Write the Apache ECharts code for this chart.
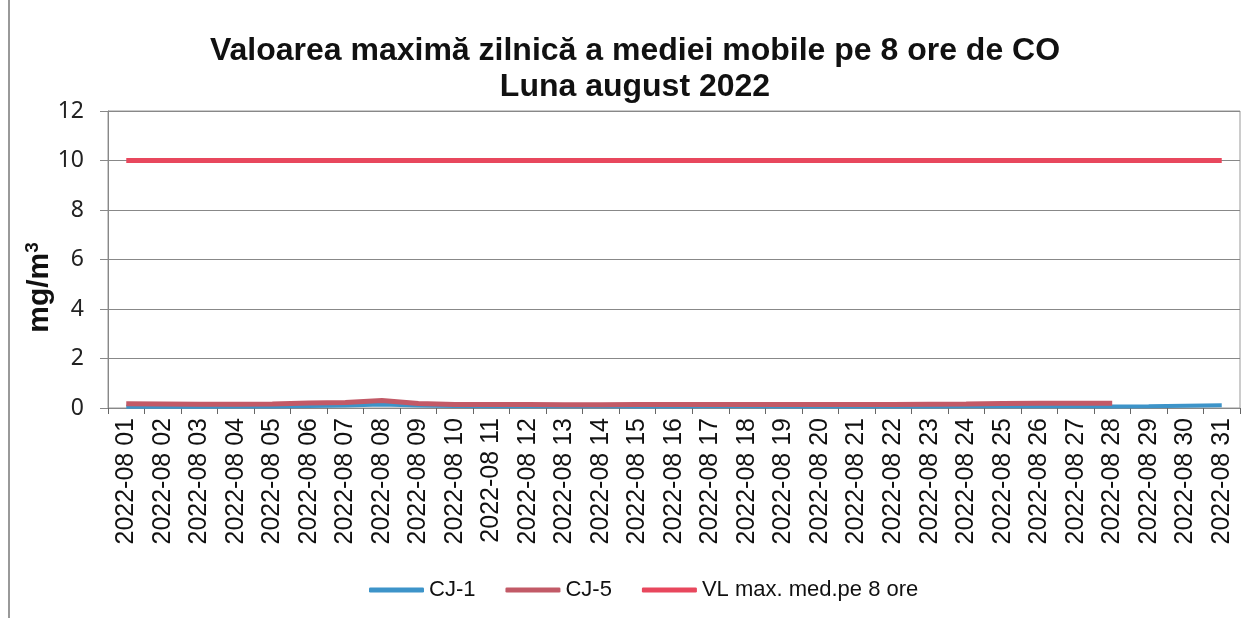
<!DOCTYPE html>
<html>
<head>
<meta charset="utf-8">
<script src="https://cdn.jsdelivr.net/npm/echarts@6/dist/echarts.min.js"></script>
<style>html,body{margin:0;padding:0;background:#fff}#c{width:1257px;height:618px}</style>
</head>
<body>
<div id="c"></div>
<script>
const days = ['2022-08 01','2022-08 02','2022-08 03','2022-08 04','2022-08 05','2022-08 06','2022-08 07','2022-08 08','2022-08 09','2022-08 10','2022-08 11','2022-08 12','2022-08 13','2022-08 14','2022-08 15','2022-08 16','2022-08 17','2022-08 18','2022-08 19','2022-08 20','2022-08 21','2022-08 22','2022-08 23','2022-08 24','2022-08 25','2022-08 26','2022-08 27','2022-08 28','2022-08 29','2022-08 30','2022-08 31'];
const cj1 = [0.05,0.05,0.05,0.06,0.06,0.08,0.1,0.14,0.1,0.08,0.07,0.07,0.08,0.07,0.06,0.06,0.07,0.07,0.06,0.06,0.06,0.06,0.06,0.07,0.07,0.07,0.07,0.06,0.07,0.09,0.11];
const cj5 = [0.17,0.16,0.15,0.15,0.16,0.2,0.22,0.3,0.18,0.14,0.14,0.14,0.13,0.13,0.14,0.14,0.14,0.14,0.14,0.14,0.14,0.14,0.15,0.16,0.18,0.19,0.19,0.19,null,null,null];
const vl = [10,10,10,10,10,10,10,10,10,10,10,10,10,10,10,10,10,10,10,10,10,10,10,10,10,10,10,10,10,10,10];
const yTicks = [0,2,4,6,8,10,12];
const seriesNames = ['CJ-1','CJ-5','VL max. med.pe 8 ore'];
const title1 = 'Valoarea maximă zilnică a mediei mobile pe 8 ore de CO';
const title2 = 'Luna august 2022';

const chart = echarts.init(document.getElementById('c'), null, {renderer:'canvas'});
const colors = ['#3d94c9','#c25a67','#e8475d'];
chart.setOption({
  animation:false,
  backgroundColor:'#fff',
  title:{
    text: title1 + '\n' + title2,
    left: 630, top: 28, textAlign:'center',
    textStyle:{fontFamily:'"Liberation Sans",Arial,sans-serif',fontWeight:'bold',fontSize:32,color:'#111',lineHeight:36}
  },
  legend:{
    data: seriesNames,
    bottom: 12, left: 364,
    icon:'roundRect', itemWidth:55, itemHeight:5, itemGap:30,
    textStyle:{fontFamily:'"Liberation Sans",Arial,sans-serif',fontSize:22,color:'#111'}
  },
  graphic:[{type:'line',shape:{x1:9,y1:0,x2:9,y2:618},style:{stroke:'#777',lineWidth:1.5}}],
  grid:{left:108,right:17,top:111,bottom:210,show:true,borderColor:'#999',borderWidth:1},
  xAxis:{
    type:'category', data: days, boundaryGap:true,
    axisLine:{lineStyle:{color:'#888'}},
    axisTick:{show:true,alignWithLabel:false,length:6,lineStyle:{color:'#666'}},
    axisLabel:{rotate:90,interval:0,margin:10,fontFamily:'"Liberation Sans",Arial,sans-serif',fontSize:25,color:'#111'}
  },
  yAxis:{
    type:'value', min:0, max:12, interval:2,
    name:'mg/m{sup|3}', nameLocation:'middle', nameGap:52, nameRotate:90, nameMoveOverlap:false,
    nameTextStyle:{fontFamily:'"Liberation Sans",Arial,sans-serif',fontWeight:'bold',fontSize:30,color:'#111',padding:[0,56,0,0],
      rich:{sup:{fontSize:19,fontWeight:'bold',verticalAlign:'top',padding:[0,0,14,0],fontFamily:'"Liberation Sans",Arial,sans-serif',color:'#111'}}},
    axisLine:{show:true,lineStyle:{color:'#888'}},
    axisTick:{show:true,length:8,lineStyle:{color:'#888'}},
    splitLine:{show:true,lineStyle:{color:'#888',width:1}},
    axisLabel:{margin:24,fontFamily:'"Noto Sans",Lato,sans-serif',fontSize:23,color:'#222',
      formatter:function(v){return yTicks.indexOf(v)>=0?String(v):'';}}
  },
  series:[
    {name:seriesNames[0],type:'line',data:cj1,symbol:'none',color:colors[0],lineStyle:{width:4,color:colors[0]}},
    {name:seriesNames[1],type:'line',data:cj5,symbol:'none',color:colors[1],lineStyle:{width:5,color:colors[1]}},
    {name:seriesNames[2],type:'line',data:vl,symbol:'none',color:colors[2],lineStyle:{width:5,color:colors[2]}}
  ]
});
</script>
</body>
</html>
